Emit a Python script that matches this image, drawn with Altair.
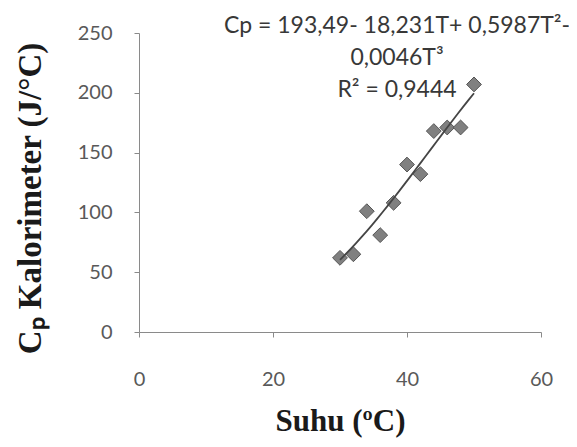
import altair as alt
import pandas as pd

# Data
suhu = [30, 32, 34, 36, 38, 40, 42, 44, 46, 48, 50]
cp = [62, 65, 101, 81, 108, 140, 132, 168, 171, 171, 207]
x_ticks = [0, 20, 40, 60]
y_ticks = [0, 50, 100, 150, 200, 250]
eq_lines = ["Cp = 193,49- 18,231T+ 0,5987T²-", "0,0046T³", "R² = 0,9444"]

df = pd.DataFrame({"Suhu": suhu, "Cp": cp})

W, H = 402, 299
TICK_FONT = "Lato"
TITLE_FONT = "Liberation Serif"

x_enc = alt.X(
    "Suhu:Q",
    scale=alt.Scale(domain=[0, 60], nice=False, zero=False),
    axis=alt.Axis(
        values=x_ticks, title="Suhu (ºC)", grid=False,
        domainColor="#8a8a8a", tickColor="#8a8a8a", tickSize=5,
        labelFont=TICK_FONT, labelFontSize=20, labelColor="#595959",
        labelPadding=32, labelFlush=False,
        titleFont=TITLE_FONT, titleFontSize=31, titleFontWeight="bold", titleColor="#1a1a1a",
        titleX=W / 2, titleY=89, titleBaseline="middle", titleAlign="center",
    ),
)
y_enc = alt.Y(
    "Cp:Q",
    scale=alt.Scale(domain=[0, 250], nice=False),
    axis=alt.Axis(
        values=y_ticks, title="Cₚ Kalorimeter (J/°C)", grid=False,
        domainColor="#8a8a8a", tickColor="#8a8a8a", tickSize=5,
        labelFont=TICK_FONT, labelFontSize=20, labelColor="#595959",
        labelPadding=22, labelFlush=False,
        titleFont=TITLE_FONT, titleFontSize=33, titleFontWeight="bold", titleColor="#1a1a1a",
        titleX=-109, titleY=165, titleBaseline="middle", titleAlign="center", titleAngle=-90,
    ),
)

base = alt.Chart(df)

points = base.mark_point(
    shape="diamond", filled=True, size=220, color="#808080",
    stroke="#555555", strokeWidth=1, opacity=1,
).encode(x=x_enc, y=y_enc)

trend = base.transform_regression(
    "Suhu", "Cp", method="poly", order=3
).mark_line(color="#454545", strokeWidth=1.8).encode(x="Suhu:Q", y="Cp:Q")

eq = alt.Chart(pd.DataFrame({"t": [0]})).mark_text(
    text=eq_lines, font=TICK_FONT, fontSize=23, color="#383838",
    align="center", baseline="alphabetic", lineHeight=32,
).encode(x=alt.value(258), y=alt.value(0))

chart = alt.layer(points, trend, eq).properties(
    width=W, height=H,
    autosize=alt.AutoSizeParams(type="none"),
    padding={"left": 131, "top": 25, "right": 28, "bottom": 107},
    background="white",
).configure_view(stroke=None)

chart.save("out.html", embed_options={"renderer": "svg", "actions": False})
